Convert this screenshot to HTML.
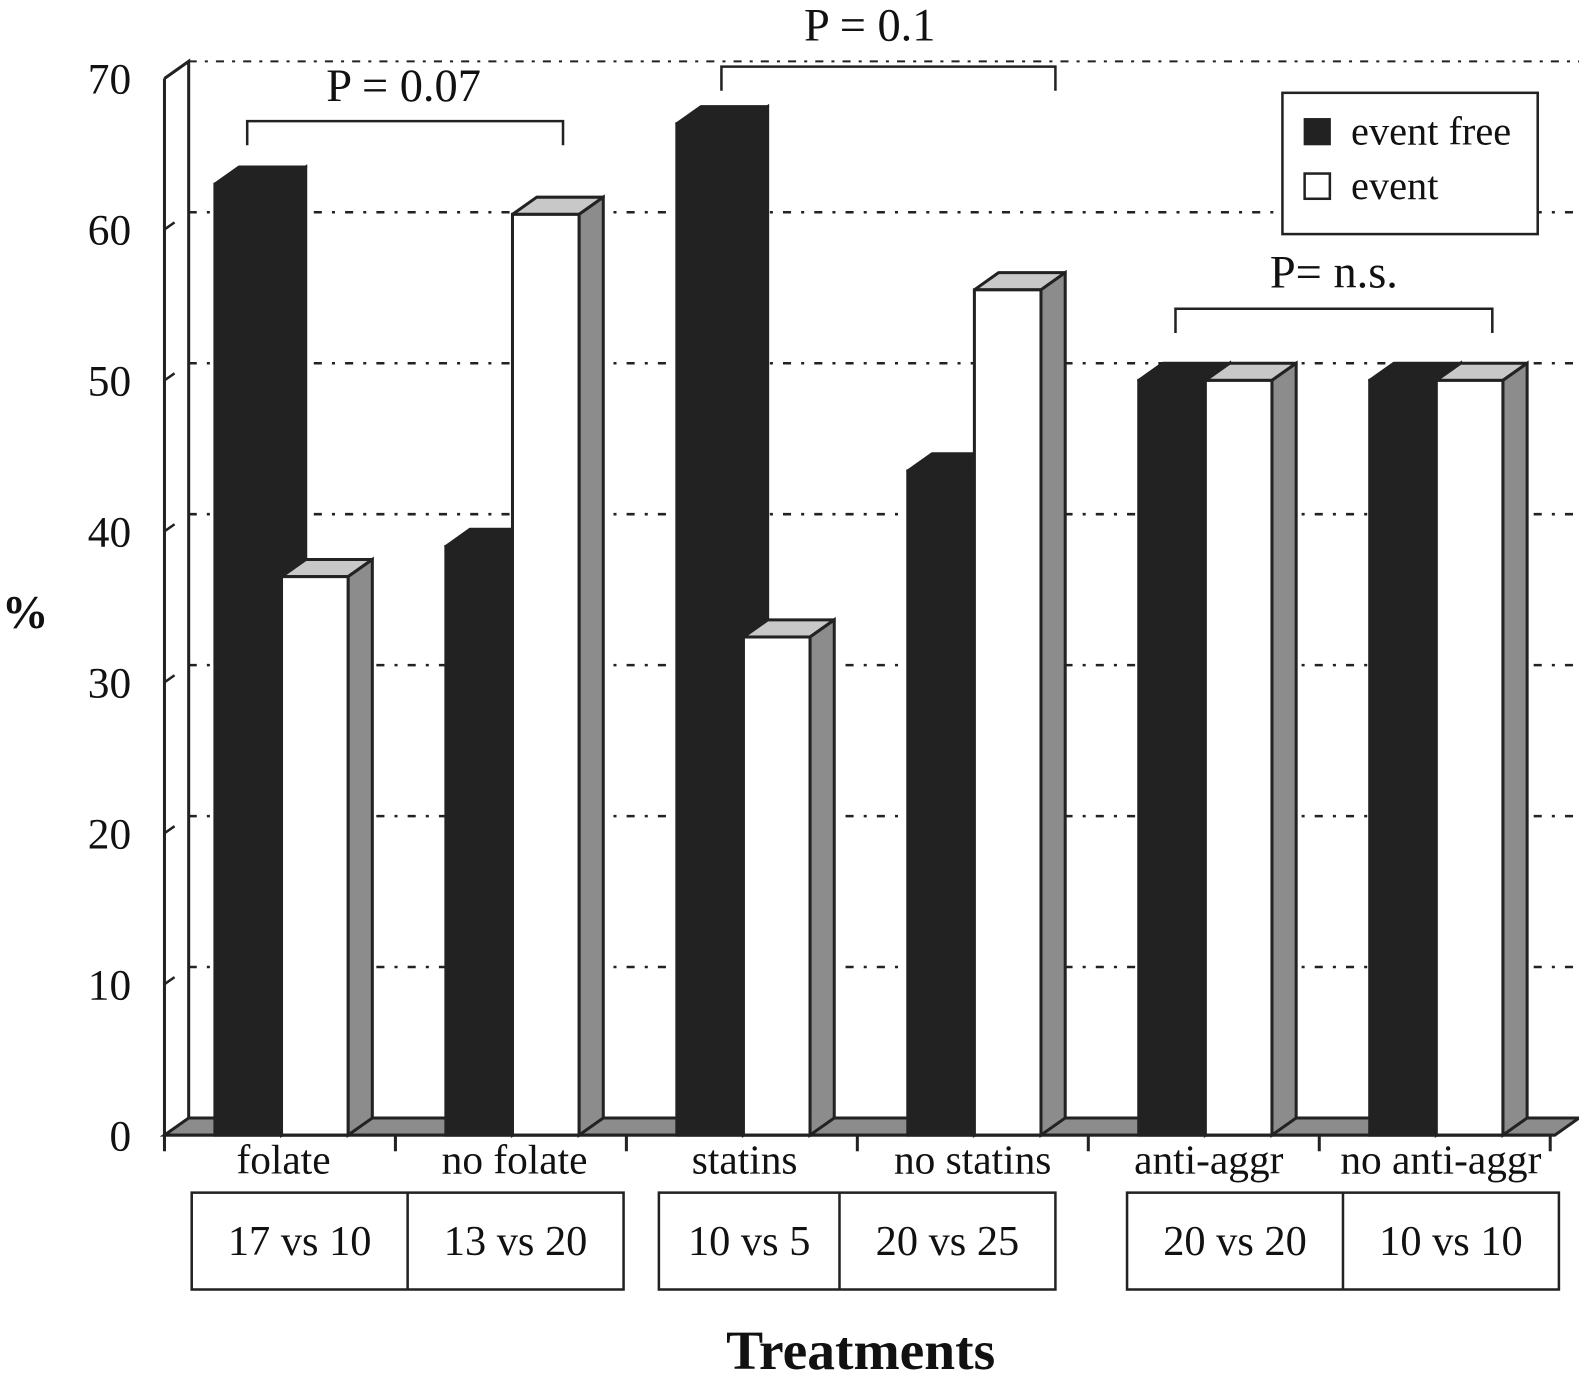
<!DOCTYPE html>
<html><head><meta charset="utf-8"><style>
html,body{margin:0;padding:0;background:#fff;}
svg{display:block;font-family:"Liberation Serif",serif;}
</style></head><body>
<svg id="chart" width="1579" height="1380" viewBox="0 0 1579 1380" xmlns="http://www.w3.org/2000/svg"><g id="root" transform="scale(1.009)"></g></svg>
<script>
const categories = ["folate","no folate","statins","no statins","anti-aggr","no anti-aggr"];
const eventFree = [63,39,67,44,50,50];
const eventVals = [37,61,33,56,50,50];
const countLabels = ["17 vs 10","13 vs 20","10 vs 5","20 vs 25","20 vs 20","10 vs 10"];
const yTicks = [0,10,20,30,40,50,60,70];

const NS="http://www.w3.org/2000/svg";
const svg=document.getElementById('root');
const X0=163, XW=228.9, Y0=1125, YU=14.96, DX=24, DY=-17;
const y=v=>Y0-v*YU;
const xc=i=>X0+i*XW;
function el(tag,attrs,parent){const e=document.createElementNS(NS,tag);for(const k in attrs)e.setAttribute(k,attrs[k]);(parent||svg).appendChild(e);return e;}
function txt(s,x,yy,size,anchor,weight){const t=el('text',{x:x,y:yy,'font-size':size,'text-anchor':anchor||'middle','font-weight':weight||'normal',fill:'#111'});t.textContent=s;return t;}
const sk='#222', sw=3;

let w=el('polyline',{points:`${X0},${y(70)} ${X0+DX},${y(70)+DY} ${X0+DX},${Y0+DY}`,fill:'none',stroke:sk,'stroke-width':sw});


el('line',{x1:X0+DX,y1:y(70)+DY,x2:1565,y2:y(70)+DY,stroke:sk,'stroke-width':2,'stroke-dasharray':'8 8 3 8'});
el('line',{x1:X0,y1:y(70),x2:X0,y2:Y0,stroke:sk,'stroke-width':sw});
yTicks.forEach(v=>{
 if(v>0&&v<70){
  const g=el('line',{x1:X0+DX,y1:y(v)+DY,x2:1565,y2:y(v)+DY,stroke:sk,'stroke-width':2.5,'stroke-dasharray':'8 10 3 10'});
  
  
 }
 el('line',{x1:X0,y1:y(v),x2:X0+10,y2:y(v)-7,stroke:sk,'stroke-width':2.5});
 const t=txt(String(v),130,y(v)+15,43,'end');
 
 
});
let f=el('polygon',{points:`${X0},${Y0} ${X0+DX},${Y0+DY} 1565,${Y0+DY} 1541,${Y0}`,fill:'#8c8c8c',stroke:sk,'stroke-width':sw});


function bar(x,w,v,dark,name){
 const g=el('g',{});
 
 
 const t=y(v);
 el('polygon',{points:`${x},${t} ${x+DX},${t+DY} ${x+w+DX},${t+DY} ${x+w},${t}`,fill:dark?'#222':'#c8c8c8',stroke:sk,'stroke-width':sw,'stroke-linejoin':'round'},g);
 el('polygon',{points:`${x+w},${t} ${x+w+DX},${t+DY} ${x+w+DX},${Y0+DY} ${x+w},${Y0}`,fill:dark?'#222':'#8c8c8c',stroke:sk,'stroke-width':sw},g);
 el('rect',{x:x,y:t,width:w,height:Y0-t,fill:dark?'#222':'#fff',stroke:sk,'stroke-width':sw},g);
}
categories.forEach((c,i)=>{
 bar(xc(i)+50,66,eventFree[i],true,'bar-event-free-'+i);
 bar(xc(i)+116,66,eventVals[i],false,'bar-event-'+i);
});
el('line',{x1:X0,y1:Y0,x2:1541,y2:Y0,stroke:sk,'stroke-width':sw});
for(let i=0;i<=6;i++) el('line',{x1:xc(i),y1:Y0,x2:xc(i),y2:Y0+16,stroke:sk,'stroke-width':sw});
categories.forEach((c,i)=>{
 const t=txt(c,[281,510,738,964,1198,1428][i],1163,41);
 
 
});
const boxes=[[190,404,618],[653,832,1046],[1117,1331,1545]];
boxes.forEach((b,k)=>{
 el('rect',{x:b[0],y:1182,width:b[2]-b[0],height:96,fill:'none',stroke:sk,'stroke-width':2.5});
 el('line',{x1:b[1],y1:1182,x2:b[1],y2:1278,stroke:sk,'stroke-width':2.5});
 [0,1].forEach(j=>{
  const t=txt(countLabels[k*2+j],(b[j]+b[j+1])/2,1244,42);
  
  
 });
});
[[245,558,120,'P = 0.07',400,100],[715,1046,66,'P = 0.1',862,40],[1165,1479,306,'P= n.s.',1322,285]].forEach(b=>{
 const p=el('polyline',{points:`${b[0]},${b[2]+24} ${b[0]},${b[2]} ${b[1]},${b[2]} ${b[1]},${b[2]+24}`,fill:'none',stroke:sk,'stroke-width':2.5});
 
 
 const t=txt(b[3],b[4],b[5],46);
 
 
});
const lg=el('g',{});


el('rect',{x:1271,y:92,width:253,height:140,fill:'#fff',stroke:sk,'stroke-width':2.5},lg);
el('rect',{x:1293,y:118,width:25,height:25,fill:'#222',stroke:sk,'stroke-width':2},lg);
el('rect',{x:1293,y:172,width:25,height:25,fill:'#fff',stroke:sk,'stroke-width':2.5},lg);
let t1=txt('event free',1339,143,40,'start');lg.appendChild(t1);
let t2=txt('event',1339,197,40,'start');lg.appendChild(t2);
let ya=txt('%',25,622,46,'middle','bold');


let xa=txt('Treatments',853,1357,55,'middle','bold');


</script>
</body></html>
